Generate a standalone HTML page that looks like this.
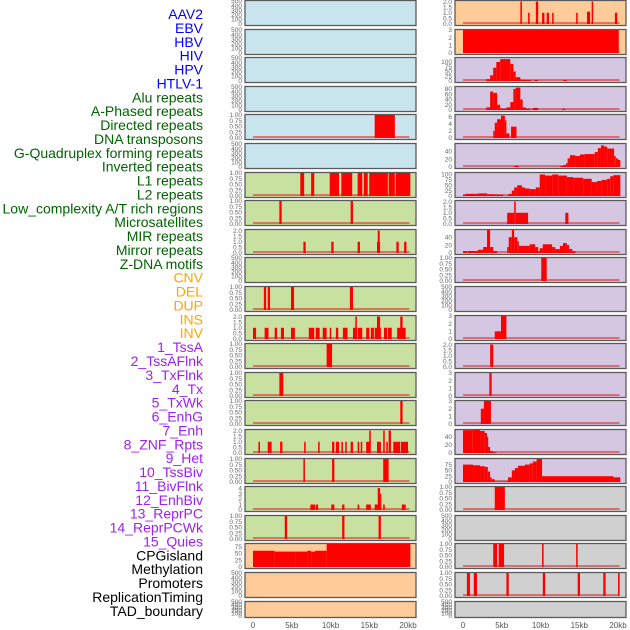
<!DOCTYPE html>
<html><head><meta charset="utf-8">
<style>
html,body{margin:0;padding:0;background:#fff;}
svg{display:block;font-family:"Liberation Sans",sans-serif;}
</style></head>
<body>
<svg id="chart" width="630" height="630" viewBox="0 0 630 630" xmlns="http://www.w3.org/2000/svg"></svg>
<script>
// ---- data ----
const labelNames = ["AAV2","EBV","HBV","HIV","HPV","HTLV-1","Alu repeats","A-Phased repeats","Directed repeats","DNA transposons","G-Quadruplex forming repeats","Inverted repeats","L1 repeats","L2 repeats","Low_complexity A/T rich regions","Microsatellites","MIR repeats","Mirror repeats","Z-DNA motifs","CNV","DEL","DUP","INS","INV","1_TssA","2_TssAFlnk","3_TxFlnk","4_Tx","5_TxWk","6_EnhG","7_Enh","8_ZNF_Rpts","9_Het","10_TssBiv","11_BivFlnk","12_EnhBiv","13_ReprPC","14_ReprPCWk","15_Quies","CPGisland","Methylation","Promoters","ReplicationTiming","TAD_boundary"];
const labelGroups = [0,0,0,0,0,0,1,1,1,1,1,1,1,1,1,1,1,1,1,2,2,2,2,2,3,3,3,3,3,3,3,3,3,3,3,3,3,3,3,4,4,4,4,4];
const groupColors = ["#0000ff","#006400","#ffa500","#a020f0","#000000"];
const xTickLabels = ["0","5kb","10kb","15kb","20kb"];
const xTickValues = [0,5,10,15,20];

const leftBg = ["b","b","b","b","b","b","g","g","g","g","g","g","g","g","g","g","g","g","g","o","o","o"];
const rightBg = ["o","o","p","p","p","p","p","p","p","p","p","p","p","p","p","p","p","g2","g2","g2","g2","g2"];
const leftMax = [500,500,500,500,1,500,1,1,2.05,500,1,2.05,1,1,1,2.05,1,4.2,1,85,500,500];
const rightMax = [2.05,3,121,87.5,6.5,58.6,107,2.05,58,1,500,3,2.05,3,3,57.5,99,1,500,1,1,500];
const leftTicks = ["T500","T500","T500","T500","T1","T500","T1","T1","T2","T500","T1","T2","T1","T1","T1","T2","T1","T4","T1","T75","T500","T500"];
const rightTicks = ["T2","T3","T100","T80","T6","T40","T100","T2","T40","T1","T500","T3","T2","T3","T3","T40","T75","T1","T500","T1","T1","T500"];
const tickSets = {
  T500:["0","100","200","300","400","500"],
  T1:["0.00","0.25","0.50","0.75","1.00"],
  T2:["0.0","0.5","1.0","1.5","2.0"],
  T3:["0","1","2","3"],
  T4:["0","1","2","3","4"],
  T6:["0","2","4","6"],
  T40:["0","20","40"],
  T75:["0","25","50","75"],
  T80:["0","20","40","60","80"],
  T100:["0","25","50","75","100"]
};

// segments [startKb, endKb, value]
const segL4 = [[15.7,18.3,1]];
const segL6 = [[6.1,6.6,1],[7.5,7.9,1],[9.9,11.1,1],[11.4,12.8,1],[13.5,14.1,1],[14.3,14.8,1],[15.0,17.4,1],[17.5,18.3,1],[18.4,20.3,1]];
const segL7 = [[3.4,3.7,1],[12.6,12.9,1]];
const segL8 = [[6.5,6.8,1],[10.1,10.4,1],[13.5,13.8,1],[16.0,16.4,1],[16.1,16.35,2],[18.5,18.8,1],[19.5,19.8,1]];
const segL10 = [[1.4,1.7,1],[1.9,2.2,1],[4.9,5.3,1],[12.5,12.9,1]];
const segL11 = [[0,0.4,1],[1.5,2.0,1],[2.8,3.1,1],[3.6,4.0,1],[4.9,5.4,1],[7.2,7.9,1],[8.1,8.6,1],[9.0,9.5,1],[9.9,10.1,1],[10.7,11.0,1],[11.6,12.2,1],[12.9,13.4,1],[13.2,13.4,2],[13.5,14.1,1],[14.6,15.0,1],[15.2,15.6,1],[15.7,16.5,1],[16.0,16.4,2],[16.9,17.3,1],[17.4,17.9,1],[18.6,19.1,1],[19.0,19.3,2],[19.1,19.7,1]];
const segL12 = [[9.5,10.2,1]];
const segL13 = [[3.4,3.9,1]];
const segL14 = [[19.0,19.3,1]];
const segL15 = [[0.7,0.9,1],[1.9,2.4,1],[3.5,3.8,1],[6.6,6.8,1],[8.4,8.6,1],[10.2,10.5,1],[10.7,11.1,1],[11.4,11.6,1],[11.9,12.1,1],[12.6,12.9,1],[13.5,13.7,1],[13.9,14.1,1],[14.6,15.1,1],[15.0,15.2,2],[16.0,16.5,1],[16.8,17.0,2],[17.2,17.4,1],[17.5,17.8,2],[18.1,19.0,1],[19.1,20.0,1]];
const segL16 = [[6.5,6.7,1],[10.2,10.5,1],[16.8,17.5,1]];
const segL17 = [[7.4,8.0,1],[8.1,8.4,1],[10.1,10.5,1],[11.5,11.8,1],[13.5,13.7,1],[14.6,15.2,1],[15.7,16.5,1],[16.1,16.4,4],[16.4,16.5,3],[16.8,17.0,1],[19.2,19.7,1]];
const segL18 = [[4.1,4.4,1],[11.5,11.8,1],[16.2,16.5,1]];
const segL19 = [[0,2.8,60],[2.8,5.5,57],[5.5,7.0,57],[7.0,7.5,60],[7.5,8.0,57],[8.0,9.5,60],[9.5,20.3,85]];

const segR0 = [[7.4,7.6,2],[8.4,8.6,1],[9.4,9.7,2],[10.2,10.5,1],[10.8,11.1,1],[11.5,11.7,1],[14.6,14.8,1],[16.0,16.4,1.1],[16.6,16.8,2],[19.6,19.9,1]];
const segR1 = [[0,20.1,3]];
const segR2 = [[3.0,3.5,10],[3.5,3.9,30],[3.9,4.3,70],[4.3,4.8,100],[4.8,6.1,115],[6.1,6.5,90],[6.5,6.8,50],[6.8,7.4,20],[7.4,8.0,6],[8.0,8.8,5],[9.2,9.7,5],[12.9,13.4,5]];
const segR3 = [[3.0,3.5,10],[3.5,3.9,70],[3.9,4.4,65],[4.4,4.8,20],[4.8,5.6,5],[5.6,6.1,10],[6.1,6.5,30],[6.5,6.8,80],[6.8,7.4,85],[7.4,7.7,40],[7.7,8.1,10],[8.1,8.7,5],[9.0,9.7,8],[12.8,13.2,5]];
const segR4 = [[3.9,4.1,2],[4.1,4.4,4.3],[4.4,4.9,5.3],[4.9,5.4,6.3],[5.4,5.6,5],[5.6,6.0,1.3],[6.2,6.9,3.2]];
const segR5 = [[6.6,7.2,3],[12.5,12.9,2],[12.9,13.3,5],[13.3,13.5,10],[13.5,13.8,22],[13.8,14.5,30],[14.5,15.1,28],[15.1,15.7,32],[15.7,17.0,33],[17.0,17.4,38],[17.4,17.8,48],[17.8,18.2,55],[18.2,18.6,52],[18.6,19.5,47],[19.5,19.7,28],[19.7,20.0,22],[20.0,20.3,18]];
const segR6 = [[0,0.3,5],[0.3,1.9,10],[1.9,3.1,12],[3.1,4.1,8],[4.1,5.2,6],[5.7,5.9,3],[5.9,6.3,10],[6.3,6.6,25],[6.6,7.0,40],[7.0,7.6,50],[7.6,8.0,40],[8.0,8.6,35],[8.6,9.4,32],[9.4,9.9,40],[9.9,10.6,100],[10.6,11.5,95],[11.5,12.3,100],[12.3,13.4,95],[13.4,14.2,88],[14.2,15.5,85],[15.5,16.6,80],[16.6,17.3,65],[17.3,17.9,70],[17.9,18.6,75],[18.6,19.0,80],[19.0,19.4,92],[19.4,20.3,97]];
const segR7 = [[5.7,6.6,1],[6.6,6.8,2],[6.8,8.4,1],[13.2,13.6,1]];
const segR8 = [[0,0.5,5],[0.6,1.9,5],[1.9,2.6,8],[2.6,3.1,15],[3.1,3.5,58],[3.5,3.9,15],[3.9,4.4,5],[5.7,5.9,15],[5.9,6.3,40],[6.3,6.6,58],[6.6,7.0,40],[7.0,7.2,30],[7.2,8.6,18],[8.6,9.3,22],[9.3,9.7,15],[9.7,9.9,5],[9.9,10.3,12],[10.3,11.5,22],[11.5,11.9,15],[11.9,12.5,10],[12.5,12.9,18],[12.9,13.4,25],[13.4,13.7,20],[13.7,14.1,10],[14.1,14.5,5]];
const segR9 = [[10.1,10.8,1]];
const segR11 = [[4.1,4.9,1],[4.9,5.6,3]];
const segR12 = [[3.5,3.9,2]];
const segR13 = [[3.4,3.7,3]];
const segR14 = [[2.3,2.7,2],[2.7,3.6,3]];
const segR15 = [[0,1.2,57],[1.2,2.2,58],[2.2,2.8,55],[2.8,3.1,50],[3.1,3.2,40],[3.2,3.5,15],[3.5,3.9,5],[3.9,4.3,2]];
const segR16 = [[0,1.3,75],[1.3,2.2,72],[2.2,2.8,68],[2.8,3.2,65],[3.2,3.5,45],[3.5,3.7,20],[3.7,4.1,12],[4.1,5.7,2],[5.7,5.8,5],[5.8,6.3,20],[6.3,6.7,50],[6.7,7.1,60],[7.1,8.0,70],[8.0,8.6,75],[8.6,9.0,80],[9.0,9.5,88],[9.5,10.2,99],[10.2,19.4,25],[19.4,20.3,20]];
const segR17 = [[4.1,5.4,1]];
const segR19 = [[3.9,4.4,1],[4.6,5.3,1],[10.2,10.4,1],[14.6,14.8,1]];
const segR20 = [[0.5,0.9,1],[1.4,1.8,1],[5.6,5.9,1],[10.3,10.6,1],[14.8,15.1,1],[18.1,18.4,1],[20.0,20.2,1]];

const leftSegs = [[],[],[],[],segL4,[],segL6,segL7,segL8,[],segL10,segL11,segL12,segL13,segL14,segL15,segL16,segL17,segL18,segL19,[],[]];
const rightSegs = [segR0,segR1,segR2,segR3,segR4,segR5,segR6,segR7,segR8,segR9,[],segR11,segR12,segR13,segR14,segR15,segR16,segR17,[],segR19,segR20,[]];
const baselineEnd = 20.2;

// ---- drawing ----
const NS = "http://www.w3.org/2000/svg";
const svg = document.getElementById("chart");
const bgColors = {b:"#c8e4ec", g:"#c8e0a0", o:"#ffcc99", p:"#d5c6e2", g2:"#d0d0d0"};
function mk(tag, attrs, parent){ const e=document.createElementNS(NS,tag); for(const k in attrs) e.setAttribute(k,attrs[k]); (parent||svg).appendChild(e); return e; }

// labels
labelNames.forEach((n,i)=>{
  const t = mk("text",{x:203,y:(19+i*13.88).toFixed(1),"text-anchor":"end","font-size":"14",fill:groupColors[labelGroups[i]]});
  t.textContent = n;
  
  
});

function rowTop(i){ return Math.round(i*28.6); }
function rowH(i){ return i===21 ? 16 : 25; }

function drawColumn(side, boxX, bgs, maxs, ticks, segsList){
  const x0 = boxX + 8, pxPerKb = 7.75;
  const xs = kb => x0 + kb*pxPerKb;
  for(let i=0;i<22;i++){
    const top = rowTop(i), h = rowH(i);
    const g = mk("g",{});
    
    
    mk("rect",{x:boxX,y:top+0.5,width:171,height:h,fill:bgColors[bgs[i]],stroke:"#5a5a5a","stroke-width":1.3},g);
    const yMax = maxs[i];
    const y0 = top + h - 1, yTop = top + 1;
    const ys = v => y0 - (v/yMax)*(y0 - yTop);
    const labs = tickSets[ticks[i]];
    labs.forEach(l=>{
      const v = parseFloat(l);
      const t = mk("text",{x:boxX-3,y:(ys(v)+2.2).toFixed(1),"text-anchor":"end","font-size":"6.5",fill:"#666"},g);
      t.textContent = l;
      
      
    });
    if(ticks[i] !== "T500"){
      mk("rect",{x:xs(0),y:y0-2,width:xs(baselineEnd)-xs(0),height:2,fill:"#e03030","fill-opacity":0.6},g);
    }
    segsList[i].forEach(s=>{
      const r = mk("rect",{x:xs(s[0]).toFixed(2),y:ys(s[2]).toFixed(2),width:Math.max(1.2,xs(s[1])-xs(s[0])).toFixed(2),height:(y0-ys(s[2])).toFixed(2),fill:"#ff0000"},g);
      
      
    });
  }
  xTickValues.forEach((v,k)=>{
    const t = mk("text",{x:xs(v),y:628,"text-anchor":"middle","font-size":"8",fill:"#555"});
    t.textContent = xTickLabels[k];
    
    
  });
}
drawColumn("left",245,leftBg,leftMax,leftTicks,leftSegs);
drawColumn("right",455,rightBg,rightMax,rightTicks,rightSegs);
</script>
</body></html>
